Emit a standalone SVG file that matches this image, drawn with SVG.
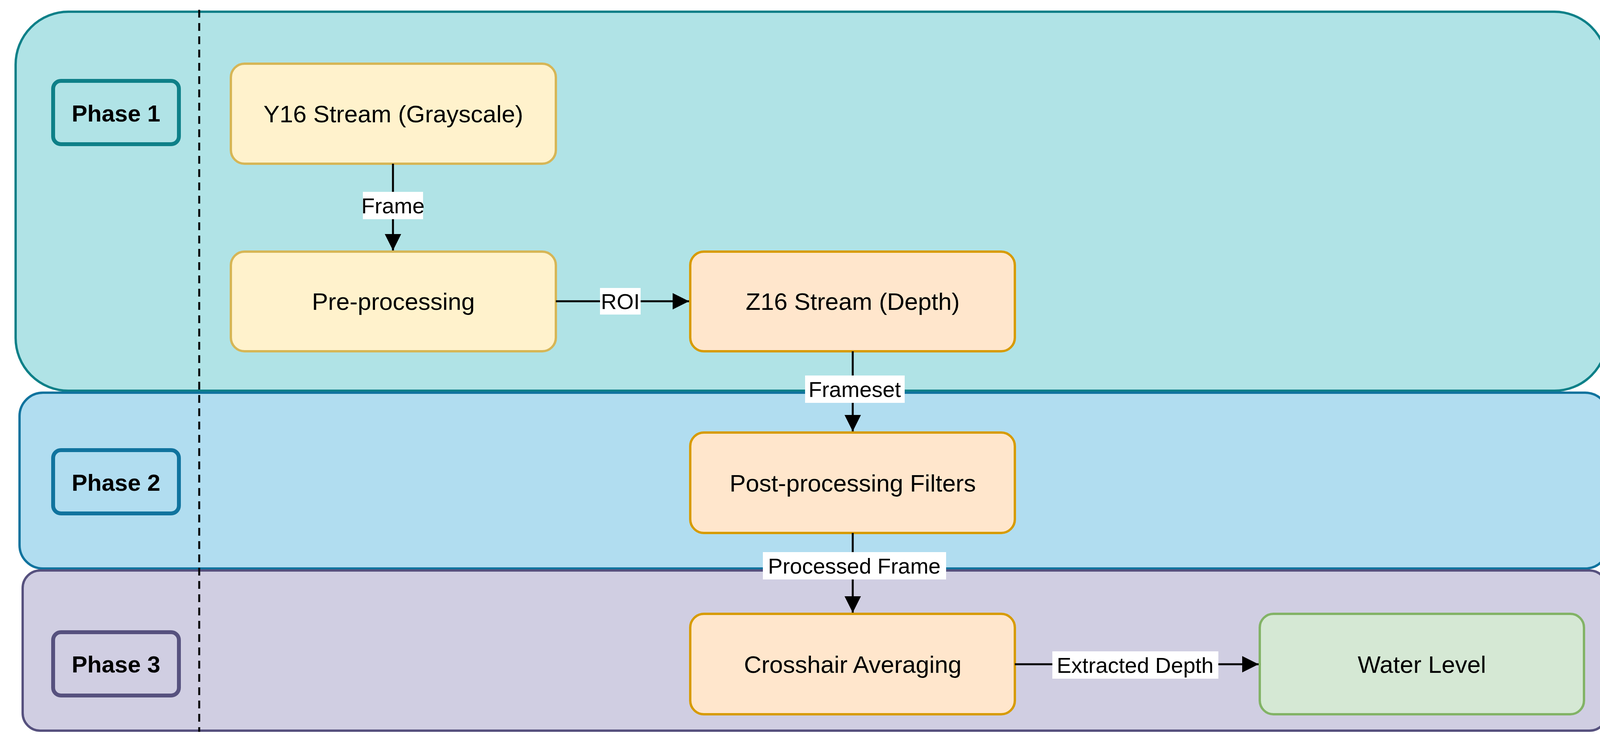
<svg xmlns="http://www.w3.org/2000/svg" width="4149" height="1899" viewBox="0 0 4149 1899">
<style>
text{font-family:"Liberation Sans",Arial,sans-serif;text-anchor:middle;dominant-baseline:central;fill:#000}
.node text{font-size:62px}
.ph{font-size:60px;font-weight:bold}
.lbl{font-size:56px}
.e{stroke:#000;stroke-width:5;fill:none}
.y{fill:#fff2cc;stroke:#d6b656;stroke-width:6}
.o{fill:#ffe6cc;stroke:#d79b00;stroke-width:6}
.g{fill:#d5e8d4;stroke:#82b366;stroke-width:6}
</style>
<defs><marker id="a" viewBox="0 0 10 10" refX="10" refY="5" markerWidth="8.5" markerHeight="8.5" markerUnits="strokeWidth" orient="auto"><path d="M0,0 L10,5 L0,10 Z" fill="#000"/></marker></defs>
<rect width="4149" height="1899" fill="#fff"/>
<g id="lane1"><rect x="40" y="30" width="4074" height="970" rx="135" fill="#b0e3e6" stroke="#0e8088" stroke-width="6"/></g>
<g id="lane2"><rect x="50" y="1005" width="4068" height="450" rx="60" fill="#b1ddf0" stroke="#10739e" stroke-width="6"/></g>
<g id="lane3"><rect x="58" y="1460" width="4056" height="410" rx="45" fill="#d0cee2" stroke="#56517e" stroke-width="6"/></g>
<line x1="510" y1="25" x2="510" y2="1873" stroke="#000" stroke-width="5" stroke-dasharray="20 14"/>
<g id="phase1"><rect x="136" y="207" width="322" height="162" rx="20" fill="#b0e3e6" stroke="#0e8088" stroke-width="10"/><text class="ph" x="297" y="290">Phase 1</text></g>
<g id="phase2"><rect x="136" y="1152" width="322" height="162" rx="20" fill="#b1ddf0" stroke="#10739e" stroke-width="10"/><text class="ph" x="297" y="1235">Phase 2</text></g>
<g id="phase3"><rect x="136" y="1618" width="322" height="162" rx="20" fill="#d0cee2" stroke="#56517e" stroke-width="10"/><text class="ph" x="297" y="1700">Phase 3</text></g>
<g id="y16" class="node"><rect class="y" x="591" y="163" width="832" height="256" rx="35"/><text x="1007" y="291">Y16 Stream (Grayscale)</text></g>
<g id="pre" class="node"><rect class="y" x="591" y="644" width="832" height="255" rx="35"/><text x="1007" y="771">Pre-processing</text></g>
<g id="z16" class="node"><rect class="o" x="1767" y="644" width="831" height="255" rx="35"/><text x="2183" y="771">Z16 Stream (Depth)</text></g>
<g id="post" class="node"><rect class="o" x="1767" y="1107" width="831" height="257" rx="35"/><text x="2183" y="1236">Post-processing Filters</text></g>
<g id="cross" class="node"><rect class="o" x="1767" y="1571" width="831" height="257" rx="35"/><text x="2183" y="1700">Crosshair Averaging</text></g>
<g id="water" class="node"><rect class="g" x="3225" y="1571" width="830" height="257" rx="35"/><text x="3640" y="1700">Water Level</text></g>
<g id="connectors">
<line class="e" x1="1006" y1="419" x2="1006" y2="641" marker-end="url(#a)"/>
<rect x="929" y="491" width="154" height="70" fill="#fff"/><text class="lbl" x="1006" y="526">Frame</text>
<line class="e" x1="1423" y1="771" x2="1764" y2="771" marker-end="url(#a)"/>
<rect x="1536" y="737" width="104" height="68" fill="#fff"/><text class="lbl" x="1588" y="771">ROI</text>
<line class="e" x1="2183" y1="899" x2="2183" y2="1104" marker-end="url(#a)"/>
<rect x="2061" y="961" width="255" height="70" fill="#fff"/><text class="lbl" x="2188" y="996">Frameset</text>
<line class="e" x1="2183" y1="1364" x2="2183" y2="1568" marker-end="url(#a)"/>
<rect x="1953" y="1413" width="469" height="70" fill="#fff"/><text class="lbl" x="2187" y="1448">Processed Frame</text>
<line class="e" x1="2598" y1="1700" x2="3222" y2="1700" marker-end="url(#a)"/>
<rect x="2694" y="1667" width="425" height="70" fill="#fff"/><text class="lbl" x="2906" y="1702">Extracted Depth</text>
</g>
</svg>
